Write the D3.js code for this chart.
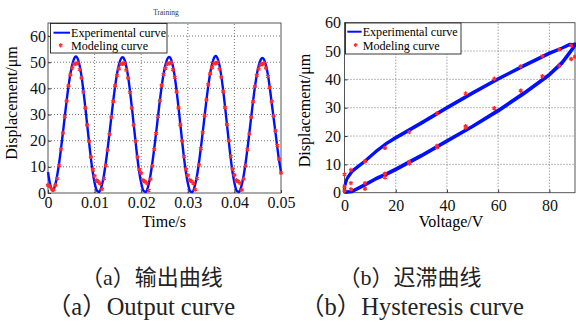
<!DOCTYPE html>
<html><head><meta charset="utf-8">
<script src="https://cdn.jsdelivr.net/npm/d3@7"></script>
<style>body{margin:0;background:#fff}svg{display:block}</style>
</head><body><svg id="c" width="576" height="325"></svg>
<script>
// ---------- DATA ----------
// (a) output curve: time in ms (axis labelled in s)
const expTimeMs = [0,0.5,1,1.5,2,2.5,3,3.5,4,4.5,5,5.5,6,6.5,7,7.5,8,8.5,9,9.5,
 10,10.5,11,11.5,12,12.5,13,13.5,14,14.5,15,15.5,16,16.5,17,17.5,18,18.5,19,19.5,
 20,20.5,21,21.5,22,22.5,23,23.5,24,24.5,25,25.5,26,26.5,27,27.5,28,28.5,29,29.5,
 30,30.5,31,31.5,32,32.5,33,33.5,34,34.5,35,35.5,36,36.5,37,37.5,38,38.5,39,39.5,
 40,40.5,41,41.5,42,42.5,43,43.5,44,44.5,45,45.5,46,46.5,47,47.5,48,48.5,49,49.5,50];
const expDisp = [8.0,3.0,0.9,2.8,7.0,12.9,20.0,27.7,35.3,42.1,47.4,50.9,52.2,50.7,46.8,40.6,32.9,24.6,16.4,9.2,
 3.9,0.9,0.4,2.6,6.8,12.8,19.9,27.6,35.2,42.0,47.3,50.7,51.9,50.5,46.6,40.4,32.7,24.4,16.2,9.0,
 3.8,0.8,0.4,2.6,6.9,12.9,20.0,27.7,35.3,42.1,47.4,50.8,52.0,50.6,46.7,40.5,32.8,24.5,16.3,9.1,
 3.8,0.7,0.4,2.7,6.9,13.0,20.1,27.8,35.5,42.3,47.7,51.1,52.4,50.9,46.9,40.6,32.9,24.6,16.4,9.2,
 3.9,0.8,0.4,2.6,6.8,12.7,19.8,27.4,35.0,41.7,47.0,50.3,51.6,50.4,47.0,41.5,34.5,27.5,20.5,13.5,8.0];
const modTimeMs = [0,0.4,0.8,1.2,1.6,2,2.4,2.8,3.2,3.6,4,4.4,4.8,5.2,5.6,6,6.4,6.8,7.2,7.6,8,8.4,8.8,9.2,9.6,
 10,10.4,10.8,11.2,11.6,12,12.4,12.8,13.2,13.6,14,14.4,14.8,15.2,15.6,16,16.4,16.8,17.2,17.6,18,18.4,18.8,19.2,19.6,
 20,20.4,20.8,21.2,21.6,22,22.4,22.8,23.2,23.6,24,24.4,24.8,25.2,25.6,26,26.4,26.8,27.2,27.6,28,28.4,28.8,29.2,29.6,
 30,30.4,30.8,31.2,31.6,32,32.4,32.8,33.2,33.6,34,34.4,34.8,35.2,35.6,36,36.4,36.8,37.2,37.6,38,38.4,38.8,39.2,39.6,
 40,40.4,40.8,41.2,41.6,42,42.4,42.8,43.2,43.6,44,44.4,44.8,45.2,45.6,46,46.4,46.8,47.2,47.6,48,48.4,48.8,49.2,49.6,50];
const modDisp = [3.0,2.6,1.5,1.2,3.0,5.5,10.5,16.8,23.0,29.2,35.2,41.0,45.2,47.8,49.3,49.4,49.7,47.2,44.0,38.6,32.6,26.0,19.8,13.8,9.0,
 6.5,4.8,4.3,3.6,1.5,5.5,10.5,16.5,22.5,29.0,35.0,41.0,45.0,47.5,49.3,49.4,49.6,47.0,44.0,38.5,32.5,26.0,19.8,13.8,9.0,
 7.6,4.9,4.4,3.8,1.0,5.3,10.3,16.7,22.8,29.2,35.3,41.2,45.3,47.7,49.4,49.5,49.8,47.2,44.2,38.7,32.6,26.1,19.9,13.9,9.1,
 6.8,5.0,4.5,3.7,1.3,5.6,10.7,17.0,23.2,29.6,35.6,41.5,45.6,48.0,49.5,49.6,50.0,47.4,44.3,38.8,32.7,26.2,20.0,14.0,9.2,
 6.9,4.9,4.4,3.8,1.2,5.4,10.4,16.6,22.6,29.0,34.9,40.8,45.0,47.4,49.1,49.3,49.6,47.8,44.6,40.4,35.0,29.5,23.8,18.2,13.0,7.7];
const timeTicks = [0,10,20,30,40,50];
const timeTickLabels = ["0","0.01","0.02","0.03","0.04","0.05"];
const dispTicksA = [0,10,20,30,40,50,60];

// (b) hysteresis curve
const loopVoltage = [0,1,3,8,12,16.5,20,30,40,50,60,70,80,85,88,90];
const upperDispA = [2.5,5.2,7.8,11.3,14.5,17.6,19.6,24.8,30.2,35.4,40.3,45.0,49.4,51.2,52.5,52.3];
const lowerDispA = [0.2,0.1,0.3,2.6,4.6,6.4,8.0,12.8,18.0,23.2,28.7,34.8,41.4,45.6,49.2,51.8];
const upperDispB = [2.0,4.8,7.4,11.0,14.2,17.3,19.2,24.4,29.8,35.0,40.0,44.6,49.0,51.0,52.2,52.6];
const lowerDispB = [0.5,0.4,0.6,3.0,5.0,6.9,8.5,13.3,18.5,23.6,29.2,35.3,41.9,46.2,49.8,52.2];
const dotVoltage = [0,0,0,2.5,2.5,2.5,8,8,8,15.8,15.8,15.8,25.3,25.3,25.3,36.1,36.1,36.1,47.3,47.3,47.3,58.5,58.5,68.8,68.8,77.3,77.3,83.9,83.9,88.5,88.5,90];
const dotDisp = [6.5,2.1,0.7,8.0,3.4,1.2,11.1,3.4,1.4,15.8,6.7,5.4,21.4,10.9,10.3,28.0,16.5,16.0,35.0,23.5,23.0,40.2,29.8,44.6,36.0,48.2,41.1,50.6,44.7,51.9,47.2,48.0];
const voltTicks = [0,20,40,60,80];
const dispTicksB = [0,10,20,30,40,50,60];

const legendLabels = ["Experimental curve","Modeling curve"];
const captionsCN = ["（a）输出曲线","（b）迟滞曲线"];
const captionsEN = ["（a）Output curve","（b）Hysteresis curve"];

// ---------- DRAW ----------
const svg = d3.select("#c");
svg.append("rect").attr("width",576).attr("height",325).attr("fill","#fff");
const serif = "'Liberation Serif','Times New Roman',serif";
const BLUE = "#0010ff", RED = "#ff2a2a";

function frame(g, x, y, xT, xL, yT, yL, padX, padY){
  const [x0,x1] = x.range(), [y0,y1] = y.range();
  g.append("g").selectAll("line").data(xT.filter(v=>v>x.domain()[0] && v<x.domain()[1])).join("line")
   .attr("x1",d=>x(d)).attr("x2",d=>x(d)).attr("y1",y0).attr("y2",y1)
   .attr("stroke","#555").attr("stroke-width",0.8).attr("stroke-dasharray","1,2");
  g.append("g").selectAll("line").data(yT.filter(v=>v>y.domain()[0] && v<y.domain()[1])).join("line")
   .attr("x1",x0).attr("x2",x1).attr("y1",d=>y(d)).attr("y2",d=>y(d))
   .attr("stroke","#555").attr("stroke-width",0.8).attr("stroke-dasharray","1,2");
  const ax = g.append("g").attr("transform",`translate(0,${y0})`)
   .call(d3.axisBottom(x).tickValues(xT).tickFormat((d,i)=>xL[i]).tickSizeInner(-3).tickSizeOuter(0).tickPadding(padX));
  const ay = g.append("g").attr("transform",`translate(${x0},0)`)
   .call(d3.axisLeft(y).tickValues(yT).tickFormat(d=>d).tickSizeInner(-3).tickSizeOuter(0).tickPadding(padY));
  [ax,ay].forEach(a=>{
    a.select(".domain").remove();
    a.selectAll("line").attr("stroke","#333");
    a.selectAll("text").attr("font-family",serif).attr("font-size",16).attr("fill","#111");
  });
  g.append("rect").attr("x",x0).attr("y",y1).attr("width",x1-x0).attr("height",y0-y1)
   .attr("fill","none").attr("stroke","#444").attr("stroke-width",0.9);
}

function star(g, pts, x, y){
  g.append("g").selectAll("path").data(pts).join("path")
   .attr("transform",d=>`translate(${x(d[0])},${y(d[1])})`)
   .attr("d",d3.symbol(d3.symbolAsterisk,13))
   .attr("stroke",RED).attr("stroke-width",1.3).attr("fill","none");
}

function legend(g, bx, by, bw, bh, lx0, lx1, ly, tx, ty1, ty2, mx, my){
  g.append("rect").attr("x",bx).attr("y",by).attr("width",bw).attr("height",bh)
   .attr("fill","#fff").attr("stroke","#222").attr("stroke-width",0.9);
  g.append("line").attr("x1",lx0).attr("x2",lx1).attr("y1",ly).attr("y2",ly)
   .attr("stroke",BLUE).attr("stroke-width",2);
  g.append("path").attr("transform",`translate(${mx},${my})`).attr("d",d3.symbol(d3.symbolAsterisk,12))
   .attr("stroke",RED).attr("stroke-width",1.2).attr("fill","none");
  g.append("text").attr("x",tx).attr("y",ty1).text(legendLabels[0])
   .attr("font-family",serif).attr("font-size",12).attr("textLength",95).attr("lengthAdjust","spacingAndGlyphs");
  g.append("text").attr("x",tx).attr("y",ty2).text(legendLabels[1])
   .attr("font-family",serif).attr("font-size",12).attr("textLength",77).attr("lengthAdjust","spacingAndGlyphs");
}

// ---- panel (a)
{
  const g = svg.append("g");
  const x = d3.scaleLinear([0,50],[48,281]);
  const y = d3.scaleLinear([0,65],[193,23]);
  frame(g, x, y, timeTicks, timeTickLabels, dispTicksA, dispTicksA, 4, 2);
  const line = d3.line().x((d,i)=>x(expTimeMs[i])).y(d=>y(d)).curve(d3.curveMonotoneX);
  g.append("path").attr("d",line(expDisp)).attr("fill","none").attr("stroke",BLUE)
   .attr("stroke-width",2.4).attr("stroke-linejoin","round");
  star(g, modTimeMs.map((t,i)=>[t,modDisp[i]]), x, y);
  legend(g, 50.5, 23.5, 116.5, 29.5, 53.5, 70, 32.7, 71, 36.8, 50.2, 60.7, 45.3);
  g.append("text").attr("x",166).attr("y",15).attr("text-anchor","middle")
   .attr("font-family",serif).attr("font-size",7.5).attr("fill","#333").text("Training");
  g.append("text").attr("x",164).attr("y",227).attr("text-anchor","middle")
   .attr("font-family",serif).attr("font-size",16).text("Time/s");
  g.append("text").attr("transform","translate(17,103) rotate(-90)").attr("text-anchor","middle")
   .attr("font-family",serif).attr("font-size",16).text("Displacement/μm");
}

// ---- panel (b)
{
  const g = svg.append("g");
  const x = d3.scaleLinear([0,90],[344.5,575]);
  const y = d3.scaleLinear([0,60],[192.7,22.7]);
  frame(g, x, y, voltTicks, voltTicks.map(String), dispTicksB, dispTicksB, 7, 3.5);
  const line = d3.line().x(d=>x(d[0])).y(d=>y(d[1])).curve(d3.curveLinear);
  const loops = [[upperDispA,lowerDispA],[upperDispB,lowerDispB]];
  loops.forEach(([up,lo])=>{
    const pts = loopVoltage.map((v,i)=>[v,lo[i]]).concat(loopVoltage.map((v,i)=>[v,up[i]]).reverse());
    g.append("path").attr("d",line(pts)+"Z").attr("fill","none").attr("stroke",BLUE)
     .attr("stroke-width",2.6).attr("stroke-linejoin","round");
  });
  star(g, dotVoltage.map((v,i)=>[v,dotDisp[i]]), x, y);
  legend(g, 345.5, 23, 115.5, 31, 347.3, 361.7, 31.7, 362.7, 36.3, 50, 355.7, 45);
  g.append("text").attr("x",451).attr("y",227).attr("text-anchor","middle")
   .attr("font-family",serif).attr("font-size",16).text("Voltage/V");
  g.append("text").attr("transform","translate(310,110.5) rotate(-90)").attr("text-anchor","middle")
   .attr("font-family",serif).attr("font-size",16).text("Displacement/μm");
}

// ---- captions
const capFont = "'Liberation Serif','Noto Sans CJK SC',serif";
svg.append("g").selectAll("text").data(captionsCN).join("text")
  .attr("x",(d,i)=>[152,410][i]).attr("y",285).attr("text-anchor","middle")
  .attr("font-family",capFont).attr("font-size",22).attr("fill","#222").text(d=>d);
svg.append("g").selectAll("text").data(captionsEN).join("text")
  .attr("x",(d,i)=>[141,412][i]).attr("y",315).attr("text-anchor","middle")
  .attr("font-family",capFont).attr("font-size",24.5).attr("fill","#222").text(d=>d);
</script></body></html>
